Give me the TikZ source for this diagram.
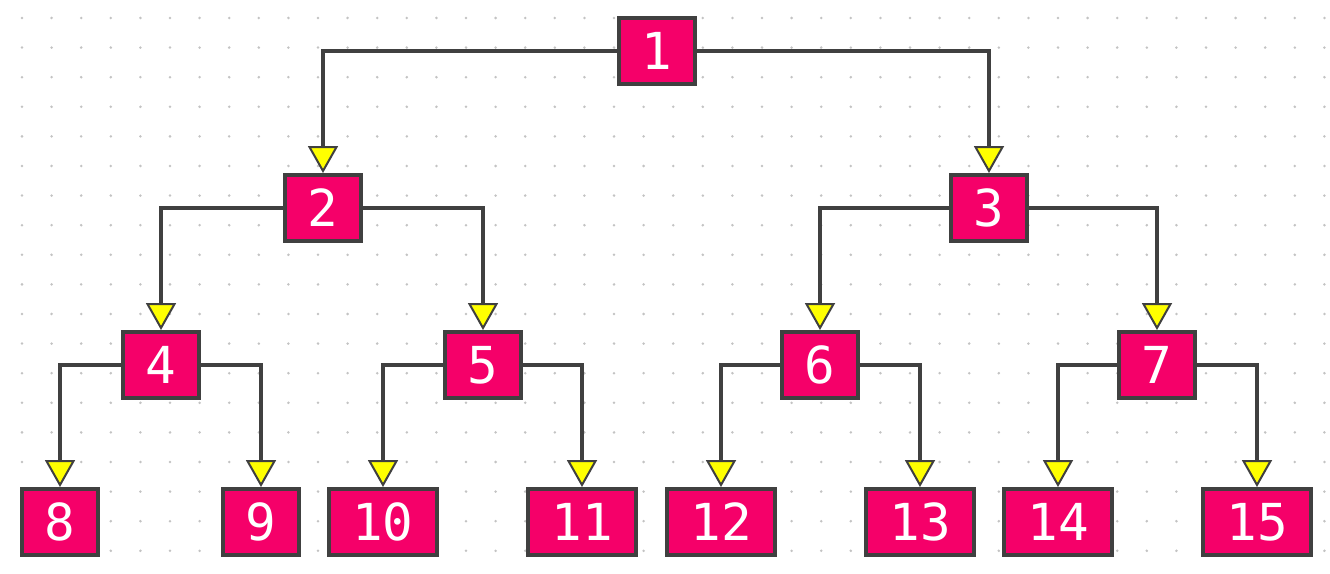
\documentclass[tikz,border=0pt]{standalone}
\usepackage{fontspec}
\newfontfamily\nodefont{DejaVu Sans Mono}
\usetikzlibrary{arrows.meta}
\definecolor{nodepink}{RGB}{245,0,105}
\definecolor{edgegray}{RGB}{64,64,64}
\definecolor{dotgray}{RGB}{195,195,195}
\definecolor{tipyellow}{RGB}{255,255,0}
\tikzset{
  box/.style={draw=edgegray, line width=0.08cm, fill=nodepink, text=white,
    inner sep=0pt, minimum width=1.52cm, minimum height=1.32cm,
    font=\nodefont\fontsize{29}{29}\selectfont},
  widebox/.style={box, minimum width=2.18cm},
  edge/.style={draw=edgegray, line width=0.075cm,
    -{Triangle[length=0.54cm, width=0.6cm, fill=tipyellow, line width=0.04cm]}}
}
\begin{document}
\begin{tikzpicture}[x=0.02cm,y=-0.02cm]
\useasboundingbox (0,0) rectangle (1330,574);
\fill[white] (0,0) rectangle (1330,574);
% dotted grid
\foreach \i in {0,...,44} {
  \foreach \j in {0,...,18} {
    \fill[dotgray] (22+29.6*\i, 18+29.6*\j) circle (1.4);
  }
}
% nodes
\node[box] (n1) at (657,51) {1};
\node[box] (n2) at (323,208) {2};
\node[box] (n3) at (989,208) {3};
\node[box] (n4) at (161,365) {4};
\node[box] (n5) at (483,365) {5};
\node[box] (n6) at (820,365) {6};
\node[box] (n7) at (1157,365) {7};
\node[box] (n8) at (60,522) {8};
\node[box] (n9) at (261,522) {9};
\node[widebox] (n10) at (383,522) {10};
\node[widebox] (n11) at (582,522) {11};
\node[widebox] (n12) at (721,522) {12};
\node[widebox] (n13) at (920,522) {13};
\node[widebox] (n14) at (1058,522) {14};
\node[widebox] (n15) at (1257,522) {15};
% edges
\draw[edge] (n1.west) -| (n2.north);
\draw[edge] (n1.east) -| (n3.north);
\draw[edge] (n2.west) -| (n4.north);
\draw[edge] (n2.east) -| (n5.north);
\draw[edge] (n3.west) -| (n6.north);
\draw[edge] (n3.east) -| (n7.north);
\draw[edge] (n4.west) -| (n8.north);
\draw[edge] (n4.east) -| (n9.north);
\draw[edge] (n5.west) -| (n10.north);
\draw[edge] (n5.east) -| (n11.north);
\draw[edge] (n6.west) -| (n12.north);
\draw[edge] (n6.east) -| (n13.north);
\draw[edge] (n7.west) -| (n14.north);
\draw[edge] (n7.east) -| (n15.north);
\end{tikzpicture}
\end{document}
